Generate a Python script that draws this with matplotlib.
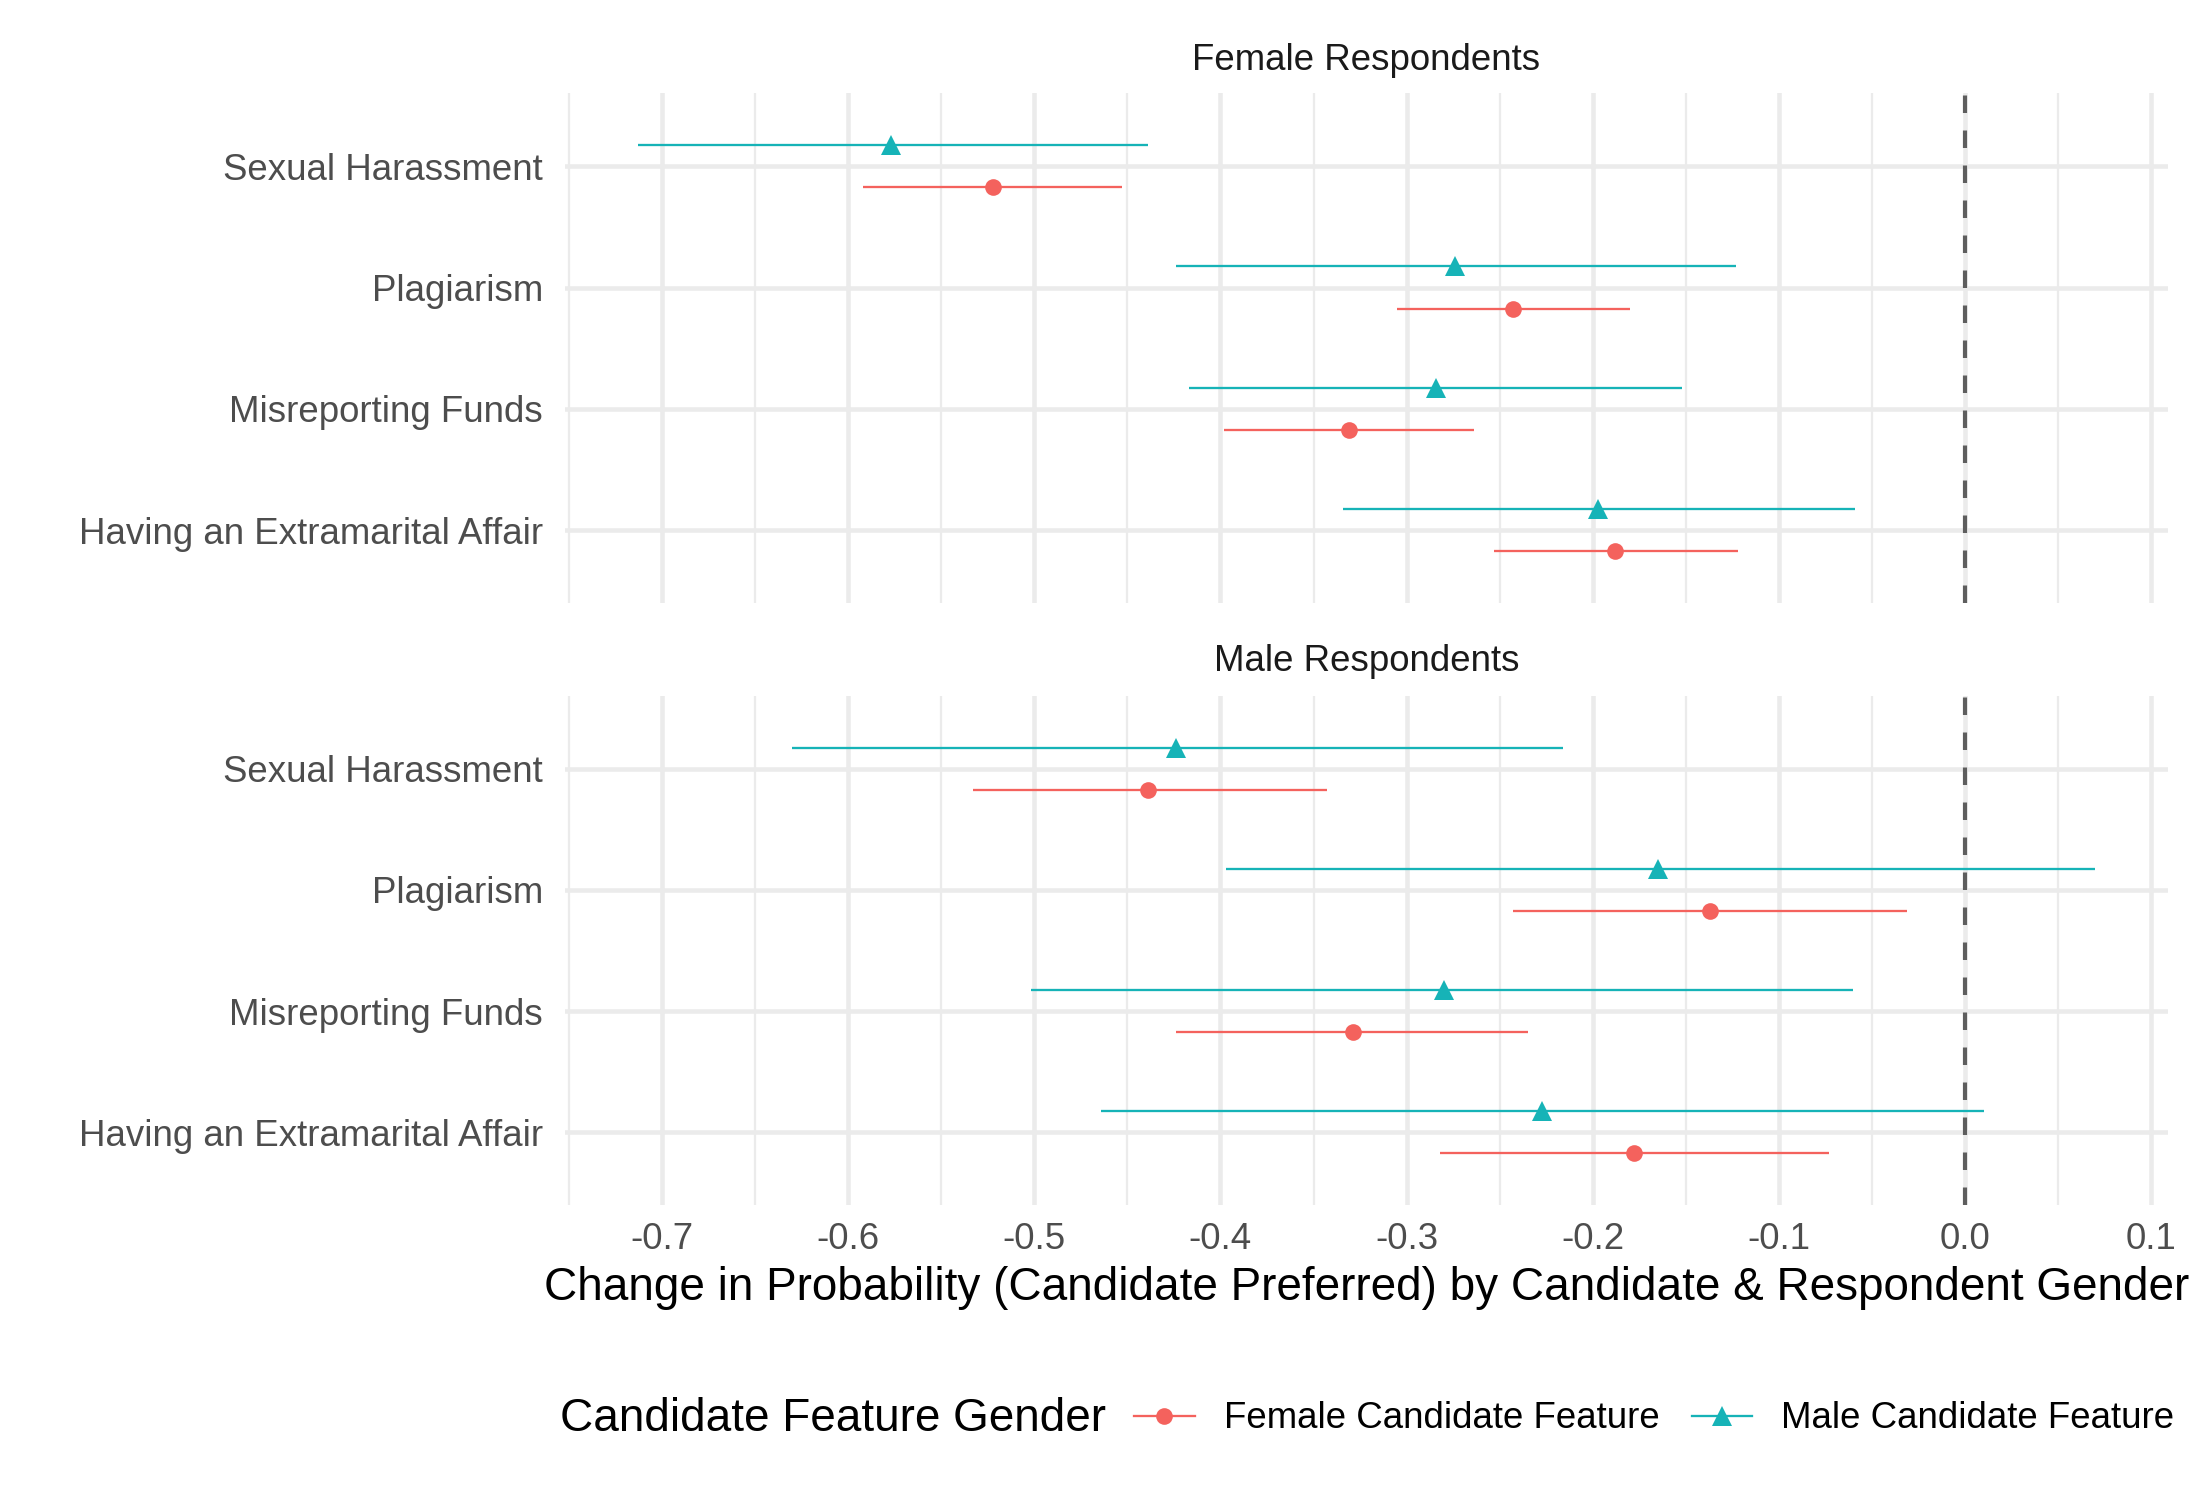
import numpy as np
import matplotlib
matplotlib.use("Agg")
import matplotlib.pyplot as plt
from matplotlib.lines import Line2D
from matplotlib.ticker import MultipleLocator

plt.rcParams['font.family'] = ['Liberation Sans', 'DejaVu Sans']

# Categories, top to bottom
categories = ["Sexual Harassment", "Plagiarism", "Misreporting Funds", "Having an Extramarital Affair"]
panels = ["Female Respondents", "Male Respondents"]

# Female respondents panel
fr_female_est = [-0.522, -0.243, -0.331, -0.188]
fr_female_lo = [-0.592, -0.305, -0.398, -0.253]
fr_female_hi = [-0.453, -0.180, -0.264, -0.122]
fr_male_est = [-0.577, -0.274, -0.284, -0.197]
fr_male_lo = [-0.713, -0.424, -0.417, -0.334]
fr_male_hi = [-0.439, -0.123, -0.152, -0.059]

# Male respondents panel
mr_female_est = [-0.439, -0.137, -0.329, -0.178]
mr_female_lo = [-0.533, -0.243, -0.424, -0.282]
mr_female_hi = [-0.343, -0.031, -0.235, -0.073]
mr_male_est = [-0.424, -0.165, -0.280, -0.227]
mr_male_lo = [-0.630, -0.397, -0.502, -0.464]
mr_male_hi = [-0.216, 0.070, -0.060, 0.010]

x_ticks = [-0.7, -0.6, -0.5, -0.4, -0.3, -0.2, -0.1, 0.0, 0.1]

col_f = "#F4625D"
col_m = "#16B3B7"
txt_grey = "#4D4D4D"
grid_col = "#EBEBEB"

fig = plt.figure(figsize=(7.3, 5.0), dpi=300)
left, right = 0.258, 0.990
ax_top = fig.add_axes([left, 0.598, right - left, 0.9377 - 0.598])
ax_bot = fig.add_axes([left, 0.1967, right - left, 0.536 - 0.1967])

data = [
    (fr_female_est, fr_female_lo, fr_female_hi, fr_male_est, fr_male_lo, fr_male_hi),
    (mr_female_est, mr_female_lo, mr_female_hi, mr_male_est, mr_male_lo, mr_male_hi),
]

# x limits like ggplot: data range (incl. 0 line) + 5%
all_vals = np.concatenate([np.array(v) for d in data for v in d] + [np.array([0.0])])
lo, hi = all_vals.min(), all_vals.max()
pad = 0.05 * (hi - lo)
xlim = (lo - pad, hi + pad)

ypos = np.arange(len(categories), 0, -1)  # SH at top
off = 0.175

for ax, d in zip([ax_top, ax_bot], data):
    f_est, f_lo, f_hi, m_est, m_lo, m_hi = d
    ax.set_xlim(xlim)
    ax.set_ylim(0.4, len(categories) + 0.6)
    for s in ax.spines.values():
        s.set_visible(False)
    ax.xaxis.set_major_locator(MultipleLocator(0.1))
    ax.xaxis.set_minor_locator(MultipleLocator(0.05))
    ax.grid(True, which='major', axis='both', color=grid_col, lw=1.1, zorder=0)
    ax.grid(True, which='minor', axis='x', color=grid_col, lw=0.55, zorder=0)
    ax.set_axisbelow(True)
    ax.set_yticks(ypos)
    ax.set_yticklabels(categories)
    ax.tick_params(axis='both', which='both', length=0, labelsize=8.8, labelcolor=txt_grey)
    ax.tick_params(axis='y', pad=5.3)
    ax.tick_params(axis='x', pad=4)
    ax.set_xticks(x_ticks)
    ax.set_xticklabels([f"{t:.1f}" for t in x_ticks])

    ax.axvline(0, color="#5E5E5E", lw=1.0, dashes=(4.2, 4.2), zorder=1)

    ax.hlines(ypos - off, f_lo, f_hi, color=col_f, lw=0.55, zorder=2)
    ax.plot(f_est, ypos - off, 'o', color=col_f, ms=4.0, mec='none', zorder=3)
    ax.hlines(ypos + off, m_lo, m_hi, color=col_m, lw=0.55, zorder=2)
    ax.plot(m_est, ypos + off, '^', color=col_m, ms=5.0, mec='none', zorder=3)

ax_top.tick_params(axis='x', labelbottom=False)

fig.text((left + right) / 2, 0.96, panels[0], ha='center', va='center', fontsize=8.8, color="#1A1A1A")
fig.text((left + right) / 2, 0.5587, panels[1], ha='center', va='center', fontsize=8.8, color="#1A1A1A")

fig.text((left + right) / 2, 0.1413,
         "Change in Probability (Candidate Preferred) by Candidate & Respondent Gender",
         ha='center', va='center', fontsize=11, color='black')

# legend
leg_y = 0.054
fig.text(0.2557, leg_y, "Candidate Feature Gender", ha='left', va='center', fontsize=11)
handles = [
    Line2D([0], [0], color=col_f, lw=0.55, marker='o', ms=4.0, mec='none'),
    Line2D([0], [0], color=col_m, lw=0.55, marker='^', ms=5.0, mec='none'),
]
fig.legend(handles, ["Female Candidate Feature", "Male Candidate Feature"],
           loc='center left', bbox_to_anchor=(0.518, leg_y), ncol=2, frameon=False,
           fontsize=8.8, handlelength=1.64, handletextpad=0.8, columnspacing=0.87,
           borderpad=0, borderaxespad=0)

fig.savefig("out.png", dpi=300)
